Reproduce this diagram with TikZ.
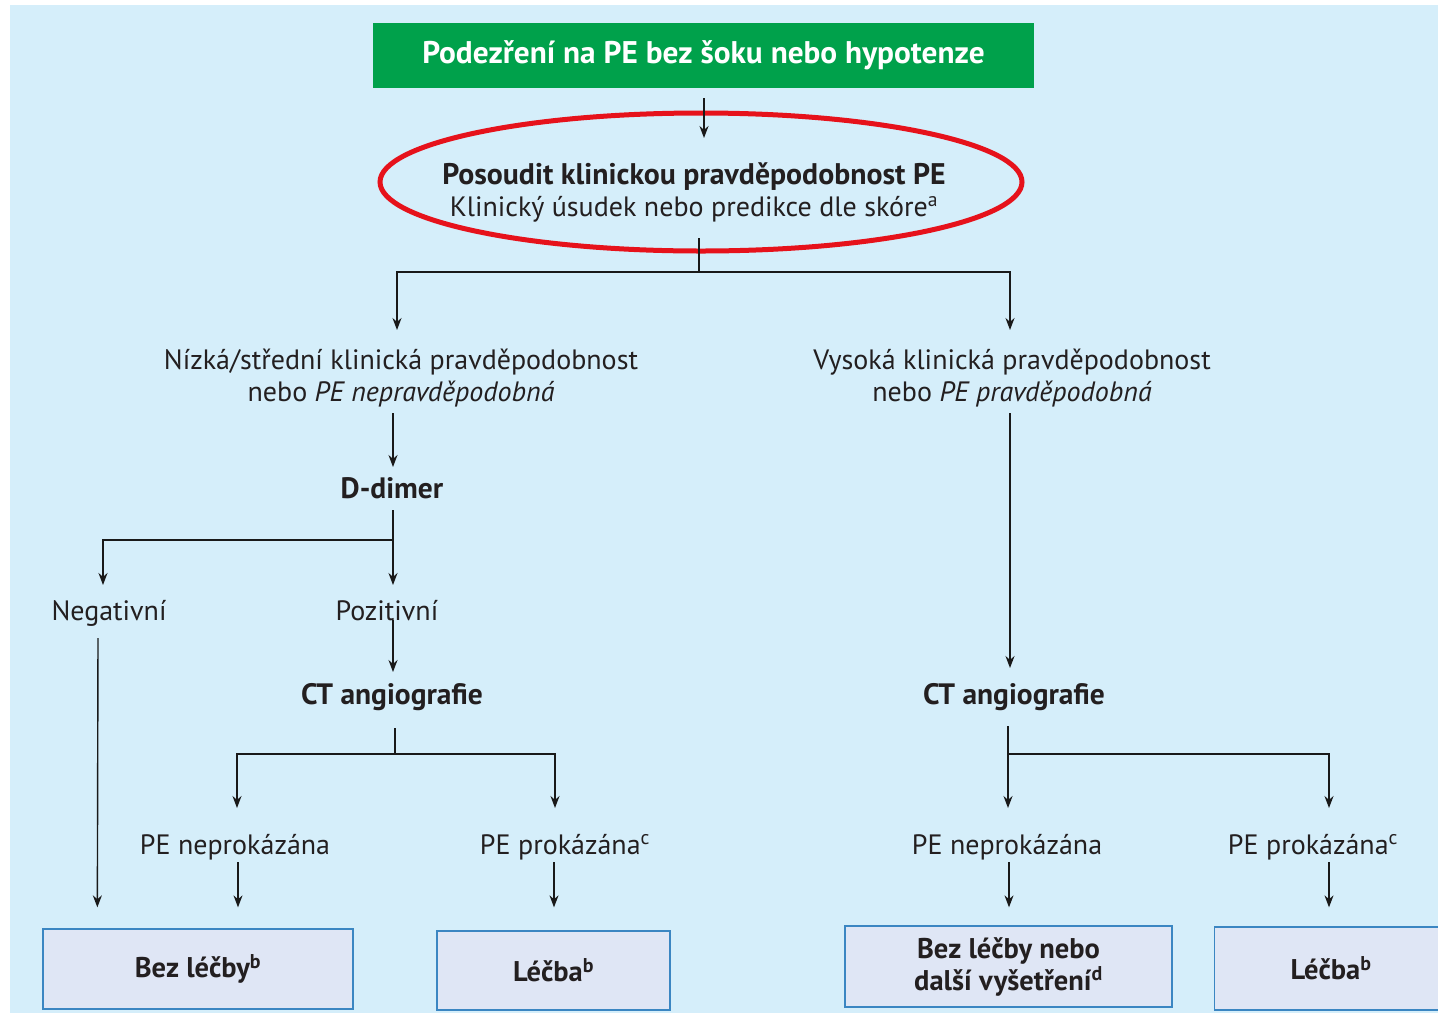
\documentclass[tikz,border=0pt]{standalone}
\usepackage{fontspec}
\setmainfont{PT Sans}
\usetikzlibrary{arrows.meta,shapes.geometric,calc}

\definecolor{bgblue}{HTML}{D5EEFA}
\definecolor{hdgreen}{HTML}{00A14B}
\definecolor{ovalred}{HTML}{E6121B}
\definecolor{boxfill}{HTML}{DFE6F5}
\definecolor{boxline}{HTML}{3B86C2}
\definecolor{ink}{HTML}{231F20}

\begin{document}
\begin{tikzpicture}[x=1pt,y=-1pt,
  txt/.style={inner sep=0pt, anchor=base, align=center, text=ink,
              font=\fontsize{28}{32}\selectfont},
  bold/.style={txt, font=\bfseries\fontsize{29.5}{32}\selectfont},
  hdr/.style={fill=hdgreen, text=white, inner sep=0pt,
              minimum width=661pt, minimum height=65pt,
              font=\bfseries\fontsize{31.3}{34}\selectfont},
  result/.style={draw=boxline, fill=boxfill, line width=1.3pt, inner sep=0pt,
              align=center, text=ink,
              font=\bfseries\fontsize{28.5}{32}\selectfont},
  link/.style={line width=1.4pt, draw=black!90},
  arr/.style={link, -{Stealth[length=12pt,width=9pt]}}]

% page frame and background panel
\useasboundingbox (0,0) rectangle (1438,1013);
\fill[bgblue] (10,5) rectangle (1438,1013);

% header
\node[hdr] (top) at (703.5,55.5) {Podezření na PE bez šoku nebo hypotenze};

% clinical probability assessment (base anchor = last line)
\node[draw=ovalred, line width=5pt, ellipse, minimum width=642pt,
      minimum height=138pt, inner sep=0pt] (oval) at (701,182) {};
\node[txt] (assess) at (694,216)
  {{\bfseries\fontsize{29.8}{33}\selectfont Posoudit klinickou pravděpodobnost PE}\\
   Klinický úsudek nebo predikce dle skóre\textsuperscript{a}};

% probability branches
\node[txt] (low)  at (401,401) {Nízká/střední klinická pravděpodobnost\\nebo \textit{PE nepravděpodobná}};
\node[txt] (high) at (1012,401) {Vysoká klinická pravděpodobnost\\nebo \textit{PE pravděpodobná}};

% left arm
\node[bold] (dd)  at (392,498) {D-dimer};
\node[txt]  (neg) at (109,620) {Negativní};
\node[txt]  (pos) at (387,620) {Pozitivní};
\node[bold] (ctl) at (392,704) {CT angiografie};
\node[txt]  (n1)  at (235,854) {PE neprokázána};
\node[txt]  (p1)  at (565,854) {PE prokázána\textsuperscript{c}};

% right arm
\node[bold] (ctr) at (1014,704) {CT angiografie};
\node[txt]  (n2)  at (1007,854) {PE neprokázána};
\node[txt]  (p2)  at (1313,854) {PE prokázána\textsuperscript{c}};

% outcomes
\node[result, minimum width=310pt, minimum height=80pt] (b1) at (198,969) {Bez léčby\textsuperscript{b}};
\node[result, minimum width=233pt, minimum height=79pt] (b2) at (553.5,970.5) {Léčba\textsuperscript{b}};
\node[result, minimum width=327pt, minimum height=81pt] (b3) at (1008.5,966.5) {Bez léčby nebo\\další vyšetření\textsuperscript{d}};
\node[result, minimum width=233pt, minimum height=83pt] (b4) at (1331,968.5) {Léčba\textsuperscript{b}};

% junctions
\coordinate (split)  at (699,272);
\coordinate (ddfork) at (393,540);
\coordinate (ctlfork) at (395,754);
\coordinate (ctrfork) at (1008,754);

% connectors
\draw[arr] ($(top.south)+(0.5,10)$) -- ($(assess.base)+(10,-78)$);
\draw[link] ($(assess.base)+(5,22)$) -- (split);
\draw[arr] (split) -| ($(low.base)+(-4,-71)$);
\draw[arr] (split) -| ($(high.base)+(-2,-71)$);

\draw[arr] ($(low.base)+(-8,12)$) -- ($(dd.base)+(1,-31)$);
\draw[link] ($(dd.base)+(1,12)$) -- (ddfork);
\draw[arr] (ddfork) -- ($(pos.base)+(6,-35)$);
\draw[arr] (ddfork) -| ($(neg.base)+(-6,-35)$);
\draw[arr] ($(pos.base)+(6,0)$) -- ($(ctl.base)+(1,-32)$);
\draw[arr] ($(neg.base)+(-11,18)$) -- ($(b1.north west)+(55,-21)$);

\draw[link] ($(ctl.base)+(3,24)$) -- (ctlfork);
\draw[arr] (ctlfork) -| ($(n1.base)+(2,-46)$);
\draw[arr] (ctlfork) -| ($(p1.base)+(-10,-46)$);
\draw[arr] ($(n1.base)+(3,8)$) -- ($(b1.north)+(40,-21)$);
\draw[arr] ($(p1.base)+(-11,8)$) -- ($(b2.north)+(0.5,-23)$);

\draw[arr] ($(high.base)+(-2,12)$) -- ($(ctr.base)+(-4,-36)$);
\draw[link] ($(ctr.base)+(-6,22)$) -- (ctrfork);
\draw[arr] (ctrfork) -- ($(n2.base)+(1,-46)$);
\draw[arr] (ctrfork) -| ($(p2.base)+(16,-46)$);
\draw[arr] ($(n2.base)+(2,8)$) -- ($(b3.north)+(0.5,-18)$);
\draw[arr] ($(p2.base)+(16,8)$) -- ($(b4.north)+(-2,-19)$);
\end{tikzpicture}
\end{document}
